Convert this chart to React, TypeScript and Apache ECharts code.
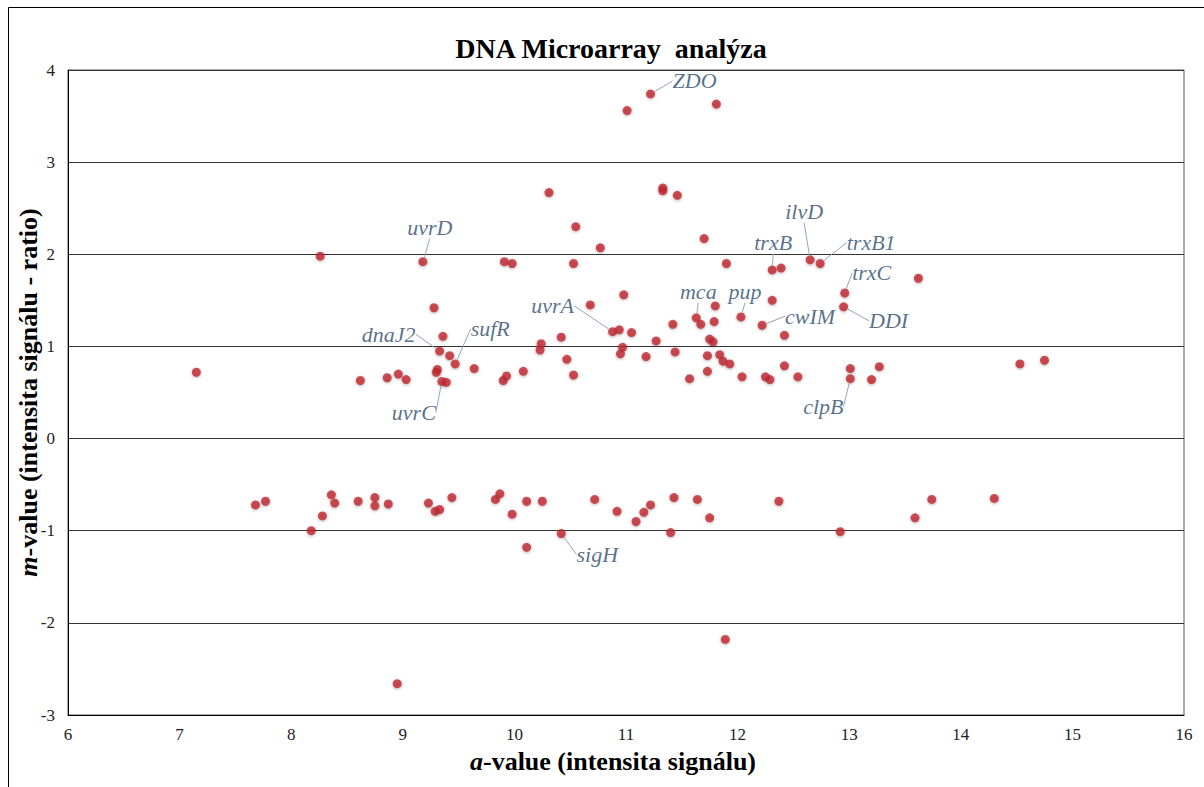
import React, { useEffect, useRef } from "react";
import * as echarts from "echarts";

// a-value (signal intensity) and m-value (ratio) of every spot
const aValues = [
  7.15, 8.26, 8.62, 8.86, 8.96, 9.03, 9.18, 9.28, 9.36, 9.33, 9.42, 9.47, 9.31, 9.30, 9.35, 9.39,
  9.64, 9.90, 9.93, 9.91, 9.98, 10.08, 10.24, 10.23, 10.31, 10.42, 10.47, 10.53, 10.53, 10.55,
  10.68, 10.77, 10.88, 10.94, 10.97, 10.95, 10.98, 11.01, 11.05, 11.18, 11.22, 11.27, 11.33,
  11.33, 11.46, 11.42, 11.44, 11.57, 11.63, 11.67, 11.70, 11.73, 11.73, 11.75, 11.78, 11.79,
  11.80, 11.81, 11.84, 11.87, 11.90, 11.93, 12.03, 12.04, 12.22, 12.25, 12.29, 12.31, 12.31,
  12.39, 12.42, 12.42, 12.54, 12.65, 12.74, 12.96, 12.95, 13.01, 13.01, 13.20, 13.27, 13.62,
  14.53, 14.75,
  7.68, 7.77, 8.18, 8.28, 8.36, 8.39, 8.60, 8.75, 8.75, 8.87, 8.95, 9.23, 9.29, 9.33, 9.44,
  9.83, 9.87, 9.98, 10.11, 10.11, 10.25, 10.42, 10.72, 10.92, 11.09, 11.16, 11.22, 11.40,
  11.43, 11.64, 11.75, 11.89, 12.37, 12.92, 13.59, 13.74, 14.30,
];
const mValues = [
  0.72, 1.98, 0.63, 0.66, 0.70, 0.64, 1.92, 1.42, 1.11, 0.95, 0.90, 0.81, 0.75, 0.72, 0.62, 0.61,
  0.76, 0.63, 0.68, 1.92, 1.90, 0.73, 1.03, 0.96, 2.67, 1.10, 0.86, 0.69, 1.90, 2.30,
  1.45, 2.07, 1.16, 1.18, 0.99, 0.92, 1.56, 3.56, 1.15, 0.89, 3.74, 1.06, 2.72,
  2.69, 2.64, 1.24, 0.94, 0.65, 1.31, 1.24, 2.17, 0.90, 0.73, 1.08, 1.05, 1.27,
  1.44, 3.63, 0.91, 0.84, 1.90, 0.81, 1.32, 0.67, 1.23, 0.67, 0.64, 1.83, 1.50,
  1.85, 1.12, 0.79, 0.67, 1.94, 1.90, 1.58, 1.43, 0.76, 0.65, 0.64, 0.78, 1.74,
  0.81, 0.85,
  -0.72, -0.68, -1.00, -0.84, -0.61, -0.70, -0.68, -0.64, -0.73, -0.71, -2.66, -0.70, -0.79, -0.77, -0.64,
  -0.66, -0.60, -0.82, -0.68, -1.18, -0.68, -1.03, -0.66, -0.79, -0.90, -0.80, -0.72, -1.02,
  -0.64, -0.66, -0.86, -2.18, -0.68, -1.01, -0.86, -0.66, -0.65,
];

// annotated genes
const geneNames = ["ZDO", "uvrD", "uvrA", "mca", "pup", "trxB", "ilvD", "trxB1", "trxC", "DDI", "cwIM", "clpB", "dnaJ2", "sufR", "uvrC", "sigH"];
const geneA = [11.22, 9.18, 10.88, 11.63, 12.03, 12.31, 12.65, 12.74, 12.96, 12.95, 12.22, 13.01, 9.33, 9.47, 9.35, 10.42];
const geneM = [3.74, 1.92, 1.16, 1.31, 1.32, 1.83, 1.94, 1.90, 1.58, 1.43, 1.23, 0.65, 0.95, 0.81, 0.62, -1.03];

const xTicks = { min: 6, max: 16, interval: 1 };
const yTicks = { min: -3, max: 4, interval: 1 };

// label placement (pixel offset of label centre from its point)
const labelOffsets: Record<string, [number, number]> = {
  ZDO: [44, -13],
  uvrD: [7, -34],
  uvrA: [-60, -26],
  mca: [2, -26],
  pup: [4, -25],
  trxB: [1, -27],
  ilvD: [-6, -48],
  trxB1: [51, -21],
  trxC: [27, -20],
  DDI: [45, 14],
  cwIM: [48, -9],
  clpB: [-27, 28],
  dnaJ2: [-51, -17],
  sufR: [35, -35],
  uvrC: [-28, 31],
  sigH: [36, 21],
};

const SERIF = "Liberation Serif";

export default function App() {
  const ref = useRef<HTMLDivElement>(null);
  useEffect(() => {
    if (!ref.current) return;
    const chart = echarts.init(ref.current, null, { renderer: "svg" });
    const points = aValues.map((a, i) => [a, mValues[i]]);
    const genes = geneNames.map((g, i) => ({ name: g, value: [geneA[i], geneM[i]] }));
    chart.setOption({
      animation: false,
      backgroundColor: "#ffffff",
      textStyle: { fontFamily: SERIF },
      title: {
        text: "DNA Microarray  analýza",
        left: 606,
        textAlign: "center",
        top: 29,
        textStyle: { fontFamily: SERIF, fontSize: 28, fontWeight: "bold", color: "#000" },
      },
      graphic: [
        {
          type: "rect",
          shape: { x: 8.5, y: 7.5, width: 1400, height: 1000 },
          style: { fill: "none", stroke: "#000", lineWidth: 1 },
          silent: true,
        },
      ],
      grid: {
        left: 68,
        top: 70,
        right: 20,
        bottom: 72,
        show: true,
        borderColor: "#555",
        borderWidth: 1,
        backgroundColor: "transparent",
        containLabel: false,
        outerBoundsMode: "none",
      },
      xAxis: {
        type: "value",
        min: xTicks.min,
        max: xTicks.max,
        interval: xTicks.interval,
        name: "{i|a}-value (intensita signálu)",
        nameLocation: "middle",
        nameGap: 33,
        nameMoveOverlap: false,
        nameTextStyle: {
          fontFamily: SERIF,
          fontSize: 26,
          fontWeight: "bold",
          color: "#000",
          padding: [0, 26, 0, 0],
          rich: {
            i: { fontFamily: SERIF, fontSize: 26, fontWeight: "bold", fontStyle: "italic", color: "#000" },
          },
        },
        axisLine: { show: true, onZero: false, lineStyle: { color: "#000", width: 1 } },
        axisTick: { show: false },
        splitLine: { show: false },
        axisLabel: { fontFamily: SERIF, fontSize: 17, color: "#222", margin: 11 },
      },
      yAxis: {
        type: "value",
        min: yTicks.min,
        max: yTicks.max,
        interval: yTicks.interval,
        name: "{i|m}-value (intensita signálu - ratio)",
        nameLocation: "middle",
        nameGap: 27,
        nameMoveOverlap: false,
        nameTextStyle: {
          fontFamily: SERIF,
          fontSize: 26,
          fontWeight: "bold",
          color: "#000",
          rich: {
            i: { fontFamily: SERIF, fontSize: 26, fontWeight: "bold", fontStyle: "italic", color: "#000" },
          },
        },
        axisLine: { show: true, onZero: false, lineStyle: { color: "#000", width: 1 } },
        axisTick: { show: false },
        splitLine: { show: true, lineStyle: { color: "#333", width: 1 } },
        axisLabel: { fontFamily: SERIF, fontSize: 17, color: "#222", margin: 13 },
      },
      series: [
        {
          type: "scatter",
          data: points,
          symbolSize: 9,
          itemStyle: {
            color: "#C0282E",
            shadowBlur: 3,
            shadowColor: "rgba(0,0,0,0.35)",
            shadowOffsetY: 1,
          },
          z: 3,
        },
        {
          type: "scatter",
          data: genes,
          symbolSize: 9,
          itemStyle: { color: "rgba(0,0,0,0)" },
          z: 4,
          label: {
            show: true,
            position: "inside",
            formatter: "{b}",
            fontFamily: SERIF,
            fontStyle: "italic",
            fontSize: 22,
            color: "#2E4B6D",
          },
          labelLine: {
            show: true,
            lineStyle: { color: "#8FA6BE", width: 1 },
          },
          labelLayout: (params: any) => {
            const off = labelOffsets[params.text] || [0, 0];
            return { dx: off[0], dy: off[1] };
          },
        },
      ],
    });
    return () => chart.dispose();
  }, []);
  return (
    <div
      ref={ref}
      style={{ position: "absolute", left: 0, top: 0, width: 1204, height: 787 }}
    />
  );
}
